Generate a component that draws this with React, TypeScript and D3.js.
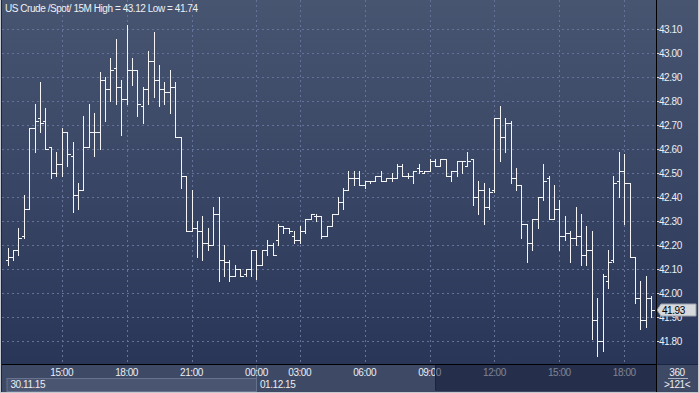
import React from 'react';
import * as d3 from 'd3';

const opens = [
  42.14, 42.15, 42.18, 42.24, 42.35, 42.69, 42.73, 42.72, 42.61, 42.50,
  42.54, 42.67, 42.57, 42.41, 42.43, 42.61, 42.67, 42.67, 42.89, 42.85,
  42.94, 42.86, 42.81, 42.93, 42.93, 42.78, 42.85, 42.97, 42.89, 42.85,
  42.84, 42.86, 42.65, 42.49, 42.26, 42.27, 42.26, 42.21, 42.20, 42.33,
  42.14, 42.13, 42.07, 42.10, 42.08, 42.10, 42.18, 42.12, 42.18, 42.20,
  42.22, 42.28, 42.27, 42.24, 42.22, 42.26, 42.31, 42.32, 42.32, 42.24,
  42.28, 42.33, 42.38, 42.43, 42.48, 42.48, 42.45, 42.47, 42.47, 42.49,
  42.47, 42.48, 42.48, 42.53, 42.49, 42.49, 42.52, 42.50, 42.51, 42.55,
  42.53, 42.56, 42.49, 42.51, 42.55, 42.53, 42.56, 42.40, 42.43, 42.36,
  42.43, 42.73, 42.65, 42.71, 42.48, 42.45, 42.29, 42.21, 42.31, 42.40,
  42.48, 42.31, 42.35, 42.24, 42.25, 42.23, 42.24, 42.16, 42.18, 41.89,
  41.80, 42.05, 42.14, 42.47, 42.51, 42.46, 42.15, 41.98, 41.89, 41.98,
];
const highs = [
  42.19, 42.18, 42.27, 42.41, 42.69, 42.79, 42.88, 42.77, 42.61, 42.59,
  42.69, 42.67, 42.63, 42.46, 42.74, 42.79, 42.75, 42.92, 42.90, 42.98,
  43.06, 42.89, 43.12, 42.98, 42.93, 42.86, 43.01, 43.09, 42.95, 42.88,
  42.93, 42.88, 42.65, 42.49, 42.43, 42.30, 42.32, 42.27, 42.36, 42.40,
  42.20, 42.14, 42.12, 42.10, 42.10, 42.18, 42.18, 42.18, 42.22, 42.21,
  42.29, 42.28, 42.27, 42.26, 42.28, 42.31, 42.33, 42.33, 42.32, 42.28,
  42.33, 42.40, 42.44, 42.51, 42.51, 42.51, 42.47, 42.47, 42.49, 42.51,
  42.48, 42.50, 42.54, 42.54, 42.50, 42.51, 42.54, 42.51, 42.56, 42.56,
  42.56, 42.56, 42.51, 42.55, 42.55, 42.59, 42.56, 42.47, 42.46, 42.44,
  42.73, 42.78, 42.73, 42.72, 42.52, 42.45, 42.29, 42.31, 42.40, 42.54,
  42.49, 42.45, 42.39, 42.32, 42.26, 42.36, 42.33, 42.28, 42.26, 41.98,
  42.08, 42.18, 42.49, 42.59, 42.58, 42.46, 42.15, 42.05, 42.07, 41.99,
];
const lows = [
  42.12, 42.14, 42.16, 42.23, 42.35, 42.59, 42.67, 42.60, 42.48, 42.49,
  42.49, 42.53, 42.34, 42.35, 42.43, 42.61, 42.57, 42.60, 42.72, 42.80,
  42.79, 42.66, 42.79, 42.87, 42.74, 42.71, 42.79, 42.82, 42.78, 42.79,
  42.75, 42.65, 42.44, 42.26, 42.26, 42.15, 42.14, 42.18, 42.20, 42.05,
  42.07, 42.05, 42.07, 42.07, 42.07, 42.07, 42.06, 42.12, 42.16, 42.16,
  42.20, 42.25, 42.25, 42.21, 42.21, 42.25, 42.31, 42.30, 42.23, 42.24,
  42.28, 42.33, 42.35, 42.43, 42.45, 42.45, 42.44, 42.46, 42.47, 42.47,
  42.47, 42.47, 42.48, 42.49, 42.48, 42.46, 42.50, 42.50, 42.51, 42.53,
  42.53, 42.49, 42.47, 42.49, 42.50, 42.53, 42.37, 42.33, 42.29, 42.35,
  42.42, 42.55, 42.59, 42.46, 42.43, 42.23, 42.13, 42.18, 42.27, 42.39,
  42.31, 42.31, 42.18, 42.22, 42.13, 42.20, 42.12, 42.12, 41.81, 41.74,
  41.76, 42.02, 42.13, 42.40, 42.29, 42.15, 41.96, 41.85, 41.86, 41.90,
];
const closes = [
  42.15, 42.18, 42.23, 42.35, 42.69, 42.72, 42.71, 42.60, 42.50, 42.54,
  42.67, 42.58, 42.41, 42.43, 42.61, 42.67, 42.67, 42.89, 42.85, 42.93,
  42.86, 42.81, 42.93, 42.93, 42.79, 42.85, 42.97, 42.89, 42.85, 42.84,
  42.86, 42.65, 42.49, 42.26, 42.27, 42.26, 42.21, 42.20, 42.33, 42.14,
  42.13, 42.07, 42.10, 42.07, 42.10, 42.18, 42.12, 42.18, 42.20, 42.16,
  42.28, 42.27, 42.26, 42.22, 42.26, 42.31, 42.33, 42.32, 42.24, 42.28,
  42.33, 42.38, 42.43, 42.48, 42.48, 42.45, 42.47, 42.47, 42.49, 42.47,
  42.48, 42.48, 42.53, 42.49, 42.49, 42.51, 42.51, 42.51, 42.55, 42.53,
  42.56, 42.49, 42.51, 42.55, 42.55, 42.55, 42.40, 42.43, 42.36, 42.42,
  42.73, 42.65, 42.71, 42.48, 42.45, 42.29, 42.21, 42.31, 42.40, 42.47,
  42.31, 42.35, 42.24, 42.25, 42.23, 42.24, 42.16, 42.18, 41.89, 41.80,
  42.07, 42.13, 42.46, 42.51, 42.46, 42.15, 41.98, 41.89, 41.98, 41.93,
];

const timeTickIndex = [10, 22, 34, 46, 54, 66, 78, 90, 102, 114];
const timeTickLabels = ['15:00', '18:00', '21:00', '00:00', '03:00', '06:00', '09:00', '12:00', '15:00', '18:00'];
const priceTicks = [41.8, 41.9, 42.0, 42.1, 42.2, 42.3, 42.4, 42.5, 42.6, 42.7, 42.8, 42.9, 43.0, 43.1];
const dateLabels = ['30.11.15', '01.12.15'];
const lastPrice = 41.93;
const titleText = 'US Crude /Spot/ 15M High = 43.12 Low = 41.74';
const barCountText = '360';
const visibleText = '>121<';

const W = 699;
const H = 393;
const plotLeft = 2;
const plotRight = 656;
const axisTop = 364;
const FONT = '"Liberation Sans", Arial, sans-serif';

export default function App() {
  const x = d3.scaleLinear().domain([0, opens.length - 1]).range([7.6, 651.3]);
  const y = d3.scaleLinear().domain([41.8, 43.1]).range([341.3, 29.3]);
  const px = (v: number) => Math.round(v) + 0.5;
  const dayBoundary = px(x(timeTickIndex[3]));
  const darkStart = 435;

  const tagY = Math.round(y(lastPrice));

  return (
    <svg
      width={W}
      height={H}
      style={{ position: 'absolute', left: 0, top: 0, display: 'block' }}
      fontFamily={FONT}
    >
      <defs>
        <linearGradient id="bg" x1="0" y1="0" x2="0" y2="1">
          <stop offset="0" stopColor="#485571" />
          <stop offset="1" stopColor="#293658" />
        </linearGradient>
      </defs>
      <rect x={0} y={0} width={W} height={H} fill="#c4c8d0" />
      <rect x={1} y={0} width={W - 2} height={H - 1} fill="#1c2540" />
      <rect x={plotLeft} y={0} width={W - plotLeft - 1} height={axisTop} fill="url(#bg)" />

      {/* horizontal grid */}
      {priceTicks.map((p) => (
        <line
          key={'hg' + p}
          x1={plotLeft}
          x2={plotRight}
          y1={px(y(p))}
          y2={px(y(p))}
          stroke="#63739a"
          strokeDasharray="2,3"
          shapeRendering="crispEdges"
        />
      ))}
      {/* vertical grid */}
      {timeTickIndex.map((i) => (
        <line
          key={'vg' + i}
          x1={px(x(i))}
          x2={px(x(i))}
          y1={0}
          y2={axisTop}
          stroke="#63739a"
          strokeDasharray="2,3"
          shapeRendering="crispEdges"
        />
      ))}

      {/* OHLC bars */}
      <g stroke="#f4f4f4" strokeWidth={1} shapeRendering="crispEdges">
        {opens.map((o, i) => {
          const cx = px(x(i));
          return (
            <g key={'b' + i}>
              <line x1={cx} x2={cx} y1={Math.round(y(highs[i]))} y2={Math.round(y(lows[i])) + 1} />
              <line x1={cx - 3} x2={cx} y1={px(y(o))} y2={px(y(o))} />
              <line x1={cx} x2={cx + 3} y1={px(y(closes[i]))} y2={px(y(closes[i]))} />
            </g>
          );
        })}
      </g>

      {/* title */}
      <text x={5} y={12} fontSize={10} fill="#eef0f4" letterSpacing={-0.45}>
        {titleText}
      </text>

      {/* bottom axis area */}
      <rect x={plotLeft} y={axisTop + 1} width={plotRight - plotLeft} height={H - axisTop - 2} fill="#3e4965" />
      <rect x={7} y={378.5} width={dayBoundary - 7} height={13} fill="#4a5571" stroke="#67728e" />
      <line x1={dayBoundary} x2={dayBoundary} y1={axisTop + 1} y2={H - 1} stroke="#66718c" />
      {timeTickIndex.map((i, k) => (
        <text
          key={'tl' + i}
          x={x(i)}
          y={376}
          fontSize={10}
          fill="#eceef2"
          textAnchor="middle"
          letterSpacing={-0.45}
        >
          {timeTickLabels[k]}
        </text>
      ))}
      <text x={10.5} y={387.5} fontSize={10} fill="#eceef2" letterSpacing={-0.45}>
        {dateLabels[0]}
      </text>
      <text x={dayBoundary + 3.5} y={387.5} fontSize={10} fill="#eceef2" letterSpacing={-0.45}>
        {dateLabels[1]}
      </text>
      <rect x={darkStart} y={axisTop + 1} width={plotRight - darkStart} height={H - axisTop - 3} fill="#0b1430" opacity={0.5} />
      <line x1={darkStart + 0.5} x2={darkStart + 0.5} y1={axisTop + 1} y2={H - 3} stroke="#1a2440" />

      {/* right axis */}
      {priceTicks.map((p) => (
        <g key={'pl' + p}>
          <line x1={657} x2={659} y1={px(y(p))} y2={px(y(p))} stroke="#e0e0e0" shapeRendering="crispEdges" />
          <text x={659} y={y(p) + 3.8} fontSize={10} fill="#eceef2" letterSpacing={-0.45}>
            {p.toFixed(2)}
          </text>
        </g>
      ))}

      {/* last price tag */}
      <path
        d={`M657,${tagY} L661,${tagY - 6} L696,${tagY - 6} L696,${tagY + 6} L661,${tagY + 6} Z`}
        fill="#d6d8dc"
        stroke="#9aa0ac"
      />
      <text x={662} y={tagY + 3.8} fontSize={10} fill="#000" letterSpacing={-0.45}>
        {lastPrice.toFixed(2)}
      </text>

      {/* bottom-right corner box */}
      <rect x={plotRight + 1} y={axisTop + 1} width={W - plotRight - 2} height={H - axisTop - 2} fill="#3e4965" />
      <text x={677} y={375.5} fontSize={10} fill="#eceef2" textAnchor="middle" letterSpacing={-0.45}>
        {barCountText}
      </text>
      <line x1={668} x2={688} y1={378.5} y2={378.5} stroke="#aab0c0" />
      <text x={677} y={388} fontSize={10} fill="#eceef2" textAnchor="middle" letterSpacing={-0.45}>
        {visibleText}
      </text>

      {/* frame lines */}
      <line x1={plotRight + 0.5} x2={plotRight + 0.5} y1={0} y2={H - 1} stroke="#000" />
      <line x1={plotLeft} x2={plotRight + 1} y1={axisTop + 0.5} y2={axisTop + 0.5} stroke="#000" />
      <line x1={0} x2={W} y1={H - 0.5} y2={H - 0.5} stroke="#c4c8d0" />
    </svg>
  );
}
